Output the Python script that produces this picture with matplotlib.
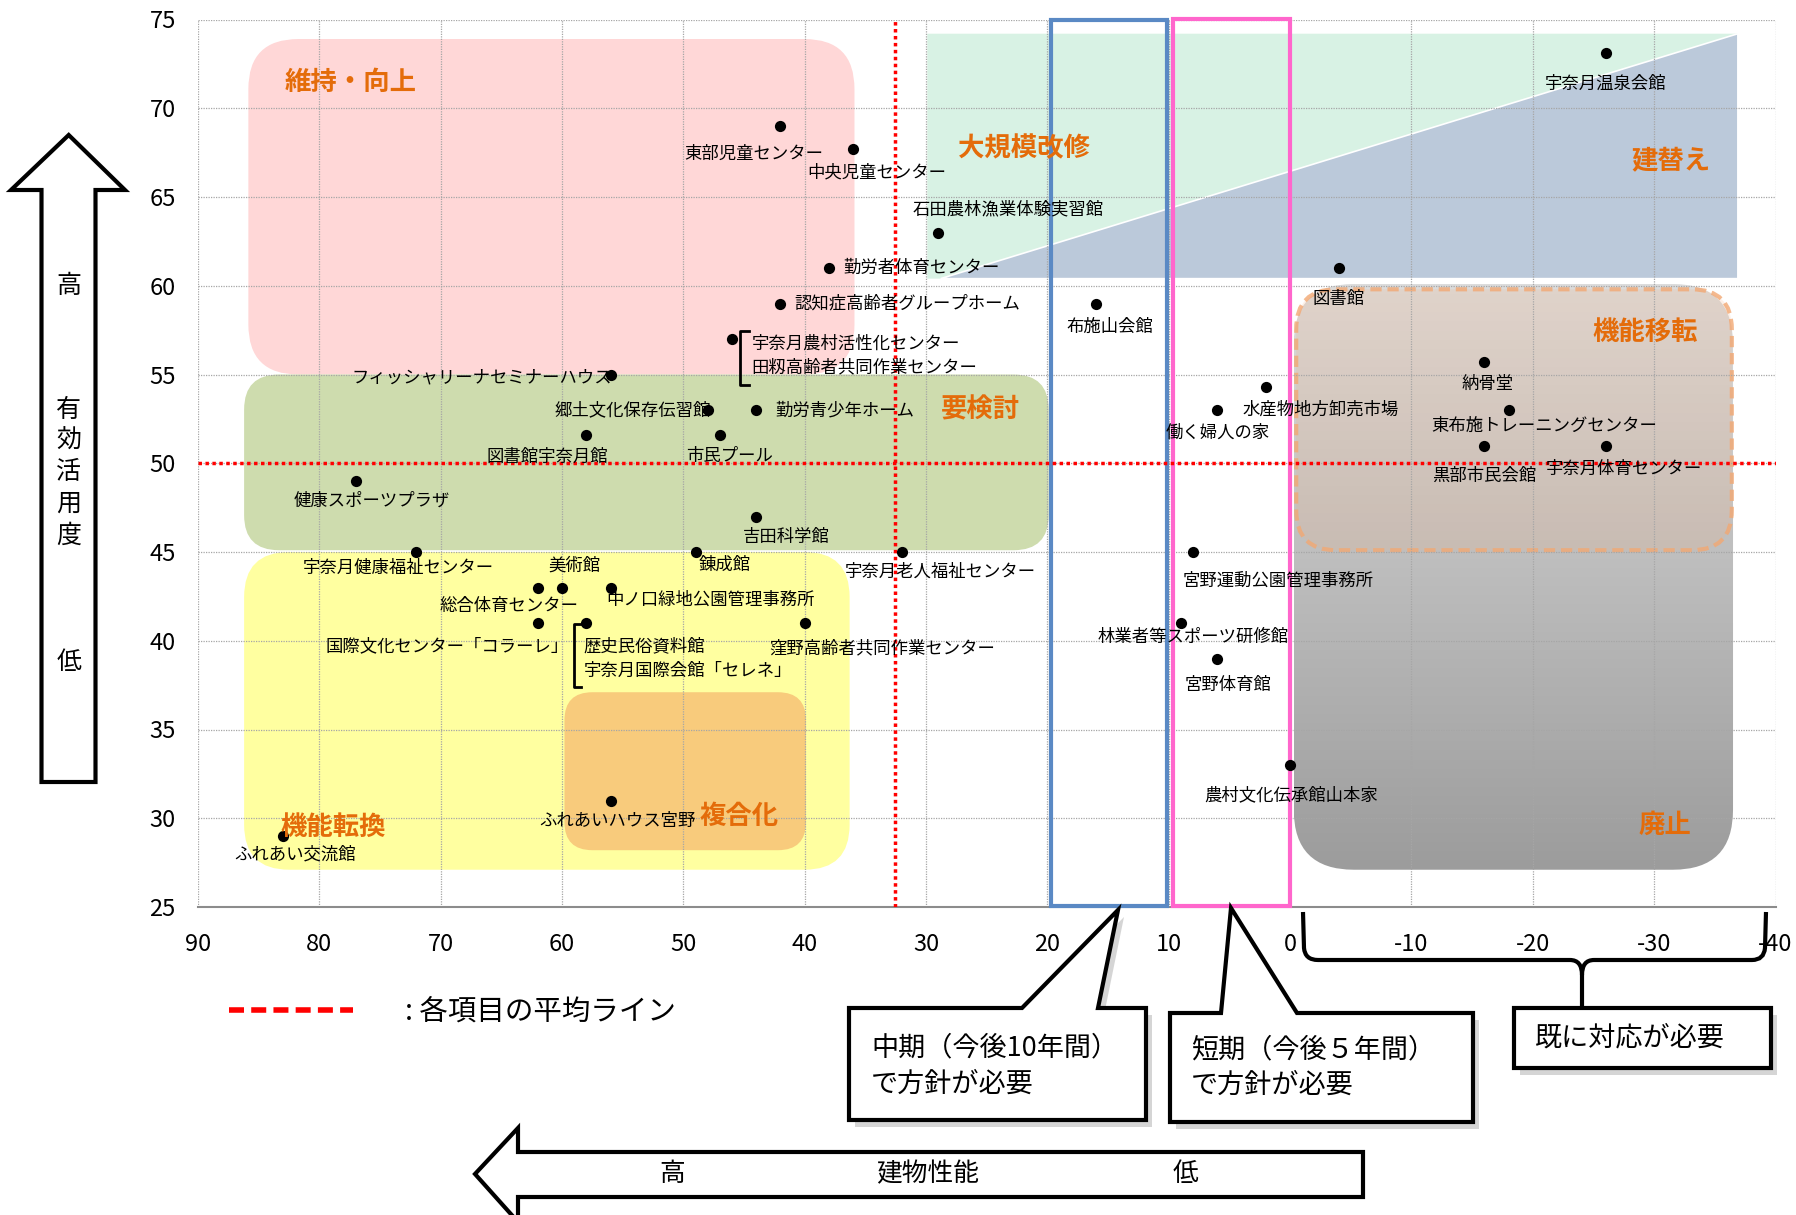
import numpy as np
import matplotlib.pyplot as plt
from matplotlib.colors import LinearSegmentedColormap
from matplotlib.lines import Line2D
from matplotlib.patches import FancyBboxPatch, Polygon, PathPatch, Rectangle
from matplotlib.path import Path
from matplotlib.transforms import Affine2D, ScaledTranslation

plt.rcParams['font.family'] = ['Noto Sans CJK JP', 'DejaVu Sans']
plt.rcParams['axes.unicode_minus'] = False

W, H = 1796, 1215

# 施設ごとの 建物性能(x) と 有効活用度(y)
names = [
    '宇奈月温泉会館', '東部児童センター', '中央児童センター', '石田農林漁業体験実習館',
    '勤労者体育センター', '認知症高齢者グループホーム', '布施山会館', '図書館',
    '宇奈月農村活性化センター\n田籾高齢者共同作業センター',
    'フィッシャリーナセミナーハウス', '郷土文化保存伝習館', '勤労青少年ホーム',
    '図書館宇奈月館', '市民プール', '健康スポーツプラザ', '吉田科学館',
    '宇奈月健康福祉センター', '錬成館', '宇奈月老人福祉センター', '美術館',
    '総合体育センター', '中ノ口緑地公園管理事務所', '国際文化センター「コラーレ」',
    '歴史民俗資料館\n宇奈月国際会館「セレネ」', '窪野高齢者共同作業センター',
    'ふれあいハウス宮野', 'ふれあい交流館', '納骨堂', '東布施トレーニングセンター',
    '黒部市民会館', '宇奈月体育センター', '水産物地方卸売市場', '働く婦人の家',
    '宮野運動公園管理事務所', '林業者等スポーツ研修館', '宮野体育館', '農村文化伝承館山本家',
]
perf = [-26, 42, 36, 29, 38, 42, 16, -4, 46, 56, 48, 44, 58, 47, 77, 44, 72, 49, 32, 60,
        62, 56, 62, 58, 40, 56, 83, -16, -18, -16, -26, 2, 6, 8, 9, 6, 0]
usage = [73.1, 69, 67.7, 63, 61, 59, 59, 61, 57, 55, 53, 53, 51.6, 51.6, 49, 47, 45, 45, 45, 43,
         43, 43, 41, 41, 41, 31, 29, 55.7, 53, 51, 51, 54.3, 53, 45, 41, 39, 33]

avg_perf = 32.6
avg_usage = 50.0

xticks = list(range(90, -41, -10))
yticks = list(range(25, 76, 5))

# ラベルの位置 (points offset, 揃え)
label_pos = {
    '宇奈月温泉会館': (0, -22, 'center'),
    '東部児童センター': (-19, -20, 'center'),
    '中央児童センター': (17, -17, 'center'),
    '石田農林漁業体験実習館': (50, 16.5, 'center'),
    '勤労者体育センター': (10, 0, 'left'),
    '認知症高齢者グループホーム': (10, 0, 'left'),
    '布施山会館': (10, -17, 'center'),
    '図書館': (0, -22, 'center'),
    '宇奈月農村活性化センター\n田籾高齢者共同作業センター': (14, -12, 'left'),
    'フィッシャリーナセミナーハウス': (1, -2, 'right'),
    '郷土文化保存伝習館': (2, 0, 'right'),
    '勤労青少年ホーム': (14, 0, 'left'),
    '図書館宇奈月館': (-28, -16, 'center'),
    '市民プール': (7, -15, 'center'),
    '健康スポーツプラザ': (11.5, -14, 'center'),
    '吉田科学館': (22, -15, 'center'),
    '宇奈月健康福祉センター': (-13, -11.5, 'center'),
    '錬成館': (21, -9, 'center'),
    '宇奈月老人福祉センター': (28, -14, 'center'),
    '美術館': (9, 15.7, 'center'),
    '総合体育センター': (-21, -13, 'center'),
    '中ノ口緑地公園管理事務所': (-3, -9, 'left'),
    '国際文化センター「コラーレ」': (22, -16.5, 'right'),
    '歴史民俗資料館\n宇奈月国際会館「セレネ」': (-2, -25.5, 'left'),
    '窪野高齢者共同作業センター': (56, -18.5, 'center'),
    'ふれあいハウス宮野': (5, -15, 'center'),
    'ふれあい交流館': (9, -13, 'center'),
    '納骨堂': (2.5, -15.7, 'center'),
    '東布施トレーニングセンター': (25.5, -11.5, 'center'),
    '黒部市民会館': (0, -22, 'center'),
    '宇奈月体育センター': (13, -16.5, 'center'),
    '水産物地方卸売市場': (-17, -16.5, 'left'),
    '働く婦人の家': (0, -16.5, 'center'),
    '宮野運動公園管理事務所': (61, -20.6, 'center'),
    '林業者等スポーツ研修館': (9, -10, 'center'),
    '宮野体育館': (7.4, -19, 'center'),
    '農村文化伝承館山本家': (1, -22, 'center'),
}

fig = plt.figure(figsize=(W / 100, H / 100), dpi=100)
ax = fig.add_axes([198 / W, 1 - 907 / H, 1577.5 / W, 887.5 / H])

PX_X = 1577.5 / 130
PX_Y = 887.5 / 50


def rbox(x_a, x_b, y_lo, y_hi, r_px, **kw):
    x_lo = min(x_a, x_b)
    p = FancyBboxPatch((x_lo, y_lo), abs(x_a - x_b), y_hi - y_lo,
                       boxstyle='round,pad=0,rounding_size=%.3f' % (r_px / PX_X),
                       mutation_aspect=PX_X / PX_Y, **kw)
    ax.add_patch(p)
    return p


# 区分の背景
rbox(85.85, 35.9, 55.0, 73.9, 50, fc='#FFD7D7', ec='none', zorder=0.2)
rbox(86.2, 19.9, 45.1, 55.0, 35, fc='#CEDCAE', ec='none', zorder=0.2)
rbox(86.2, 36.3, 27.1, 45.0, 45, fc='#FFFFA0', ec='none', zorder=0.2)
rbox(59.8, 39.9, 28.2, 37.1, 28, fc='#F8CB7C', ec='none', zorder=0.3)

ax.add_patch(Polygon([(29.9, 74.2), (-36.9, 74.2), (28.8, 60.4), (29.9, 60.4)],
                     fc='#D8F2E4', ec='none', zorder=0.2))
ax.add_patch(Polygon([(28.8, 60.4), (-36.9, 74.2), (-36.9, 60.4)],
                     fc='#BBC9DA', ec='white', lw=1.2, zorder=0.25))

gray = rbox(-0.3, -36.5, 27.1, 60.1, 60, fc='none', ec='none', zorder=0.2)
grad = np.linspace(0, 1, 256).reshape(-1, 1)
cmap = LinearSegmentedColormap.from_list('g', ['#DCDCDC', '#9C9C9C'])
im = ax.imshow(grad, extent=[-36.5, -0.3, 27.1, 60.1], origin='upper', cmap=cmap,
               aspect='auto', zorder=0.2)
im.set_clip_path(gray)
rbox(-0.5, -36.4, 45.1, 59.8, 40, fc=(0.96, 0.69, 0.5, 0.18), ec=(0.95, 0.66, 0.45, 0.8),
     lw=3, ls=(0, (2.7, 1.4)), zorder=0.35)

# 期間の枠
ax.add_patch(Rectangle((10.15, 25.05), 9.55, 49.9, fill=False, ec='#5A89C4', lw=3,
                       clip_on=False, zorder=2.8))
ax.add_patch(Rectangle((0.0, 25.05), 9.65, 49.95, fill=False, ec='#FF66CC', lw=3,
                       clip_on=False, zorder=2.9))

# 平均ライン
ax.axvline(avg_perf, color='red', lw=2.5, ls=(0, (1, 1)), zorder=3)
ax.axhline(avg_usage, color='red', lw=2.5, ls=(0, (1, 1)), zorder=3)

ax.scatter(perf, usage, s=65, c='black', zorder=4, linewidths=0)

for name, x, y in zip(names, perf, usage):
    dx, dy, ha = label_pos[name]
    ax.annotate(name, (x, y), xytext=(dx, dy), textcoords='offset points',
                ha=ha, va='center', fontsize=12.5, linespacing=1.45, zorder=5)


def bracket(x, y, xv, xt, yt, yb):
    tr = Affine2D().scale(fig.dpi / 72) + ScaledTranslation(x, y, ax.transData)
    fig.add_artist(Line2D([xt, xv, xv, xt], [yt, yt, yb, yb], transform=tr,
                          color='black', lw=2))


bracket(46, 57, 6, 12, 6, -33.4)
bracket(58, 41, -9.1, -3.6, -0.5, -46)

# 区分名
orange = '#E46C0A'
zones = [('維持・向上', 77.45, 71.45), ('大規模改修', 21.9, 67.7), ('建替え', -31.4, 67.06),
         ('機能移転', -29.3, 57.4), ('要検討', 25.5, 53.0), ('機能転換', 78.9, 29.5),
         ('複合化', 45.4, 30.1), ('廃止', -30.9, 29.6)]
for s, x, y in zones:
    ax.text(x, y, s, color=orange, fontsize=19, fontweight='bold',
            ha='center', va='center', zorder=5)

ax.set_xlim(90, -40)
ax.set_ylim(25, 75)
ax.set_xticks(xticks)
ax.set_yticks(yticks)
ax.tick_params(length=0, labelsize=17)
ax.tick_params(axis='x', pad=19)
ax.tick_params(axis='y', pad=16)
ax.grid(True, color='#A6A6A6', ls=(0, (1, 1)), lw=0.9)
ax.set_axisbelow(True)
for s in ['top', 'right', 'left']:
    ax.spines[s].set_visible(False)
ax.spines['bottom'].set_color('#8C8C8C')
ax.spines['bottom'].set_linewidth(1.5)


# 図の外側の注記 (ピクセル座標)
def fxy(pts):
    return [(x / W, 1 - y / H) for x, y in pts]


def fpoly(pts, **kw):
    p = Polygon(fxy(pts), closed=True, transform=fig.transFigure, **kw)
    fig.add_artist(p)


def ftext(x, y, s, **kw):
    fig.text(x / W, 1 - y / H, s, **kw)


fpoly([(68.7, 135), (125, 190), (95.5, 190), (95.5, 782), (41.5, 782), (41.5, 190), (11, 190)],
      fc='white', ec='black', lw=3, joinstyle='miter')
for ch, yy in zip('高有効活用度低', [286, 410, 441, 472, 504, 536, 662]):
    ftext(68.7, yy, ch, fontsize=18, ha='center', va='center')

fpoly([(475, 1174), (518, 1128), (518, 1152), (1363, 1152), (1363, 1197), (518, 1197), (518, 1222)],
      fc='white', ec='black', lw=3, joinstyle='miter')
ftext(672, 1174, '高', fontsize=18.5, ha='center', va='center')
ftext(928, 1174, '建物性能', fontsize=18.5, ha='center', va='center')
ftext(1185, 1174, '低', fontsize=18.5, ha='center', va='center')

fig.add_artist(Line2D([229 / W, 353 / W], [1 - 1010 / H] * 2, transform=fig.transFigure,
                      color='red', lw=4, ls=(0, (2.7, 1.3))))
ftext(405, 1012, ': 各項目の平均ライン', fontsize=20.5, va='center')

call1 = [(849, 1008), (1022, 1008), (1118, 910), (1098, 1008), (1146, 1008), (1146, 1120), (849, 1120)]
call2 = [(1170, 1013), (1221, 1013), (1231, 908), (1297, 1013), (1473, 1013), (1473, 1122), (1170, 1122)]
call3 = [(1514, 1008), (1771, 1008), (1771, 1068), (1514, 1068)]
for pts in [call1, call2, call3]:
    fpoly([(x + 6, y + 7) for x, y in pts], fc='#888888', alpha=0.35, ec='none')
    fpoly(pts, fc='white', ec='black', lw=3, joinstyle='miter')

ftext(871, 1048, '中期（今後10年間）', fontsize=19.5, va='center')
ftext(871, 1084, 'で方針が必要', fontsize=19.5, va='center')
ftext(1191, 1050, '短期（今後５年間）', fontsize=19.5, va='center')
ftext(1191, 1085, 'で方針が必要', fontsize=19.5, va='center')
ftext(1535, 1038, '既に対応が必要', fontsize=19.5, va='center')

M, L, C = Path.MOVETO, Path.LINETO, Path.CURVE3
brace_v = [(1303, 912), (1304, 948), (1305, 960), (1318, 960), (1570, 960), (1582, 960), (1582, 975),
           (1582, 1008),
           (1766, 912), (1765, 948), (1764, 960), (1752, 960), (1594, 960), (1582, 960), (1582, 975)]
brace_c = [M, L, C, C, L, C, C, L, M, L, C, C, L, C, C]
fig.add_artist(PathPatch(Path(fxy(brace_v), brace_c), fill=False, ec='black', lw=3,
                         transform=fig.transFigure))

fig.savefig('out.png', dpi=100)
